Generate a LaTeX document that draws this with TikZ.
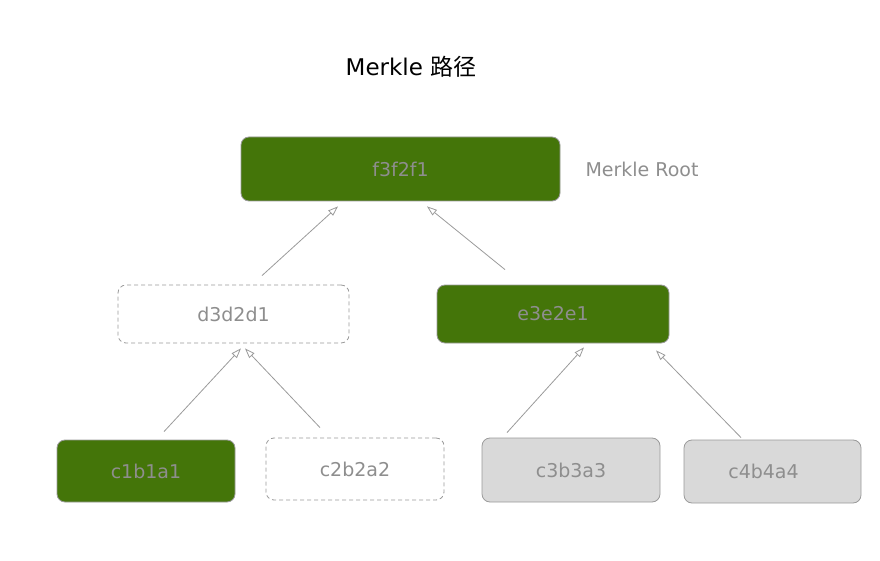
\documentclass[tikz,border=0pt]{standalone}
\usepackage{fontspec}
\setmainfont{DejaVu Sans}
\newfontfamily\cjk{Noto Sans CJK SC}
\usetikzlibrary{arrows.meta,calc}
\definecolor{leaf}{HTML}{447509}
\definecolor{txtgray}{HTML}{8E8E8E}
\definecolor{edgegray}{HTML}{9A9A9A}
\definecolor{boxgray}{HTML}{D9D9D9}
\tikzset{
  box/.style={rectangle, rounded corners=8pt, inner sep=0pt, line width=0.8pt, draw=edgegray,
    text=txtgray, font=\fontsize{19}{22}\selectfont},
  greenbox/.style={box, fill=leaf},
  dashbox/.style={box, fill=white, dash pattern=on 4pt off 3pt},
  graybox/.style={box, fill=boxgray},
  arr/.style={draw=edgegray, line width=0.8pt, -{Triangle[open, length=10pt, width=7pt]}}
}
\begin{document}
\begin{tikzpicture}[x=1pt,y=-1pt]
\useasboundingbox (0,0) rectangle (880,561);
\node[font=\fontsize{23}{27}\selectfont] (title) at (411,67) {Merkle {\cjk 路径}};
\node[greenbox, minimum width=319pt, minimum height=64pt] (f3) at (400.5,169) {f3f2f1};
\node[text=txtgray, font=\fontsize{19}{22}\selectfont, anchor=west] (root) at (582,169) {Merkle Root};
\node[dashbox, minimum width=231pt, minimum height=58pt] (d3) at (233.5,314) {d3d2d1};
\node[greenbox, minimum width=232pt, minimum height=58pt] (e3) at (553,314) {e3e2e1};
\node[greenbox, minimum width=178pt, minimum height=62pt] (c1) at (146,471) {c1b1a1};
\node[dashbox, minimum width=178pt, minimum height=62pt] (c2) at (355,469) {c2b2a2};
\node[graybox, minimum width=178pt, minimum height=64pt] (c3) at (571,470) {c3b3a3};
\node[graybox, minimum width=177pt, minimum height=63pt] (c4) at (772.5,471.5) {\hspace*{-18pt}c4b4a4};
\draw[arr] ($(d3.north)+(28.5,-9)$) -- ($(f3.south)+(-62.5,5)$);
\draw[arr] ($(e3.north)+(-48,-15)$) -- ($(f3.south)+(26.5,5)$);
\draw[arr] ($(c1.north)+(18,-8)$) -- ($(d3.south)+(7.5,5)$);
\draw[arr] ($(c2.north)+(-35,-10)$) -- ($(d3.south)+(11.5,5)$);
\draw[arr] ($(c3.north)+(-64,-5)$) -- ($(e3.south)+(31,4)$);
\draw[arr] ($(c4.north)+(-31.5,-2)$) -- ($(e3.south)+(103,7)$);
\end{tikzpicture}
\end{document}
